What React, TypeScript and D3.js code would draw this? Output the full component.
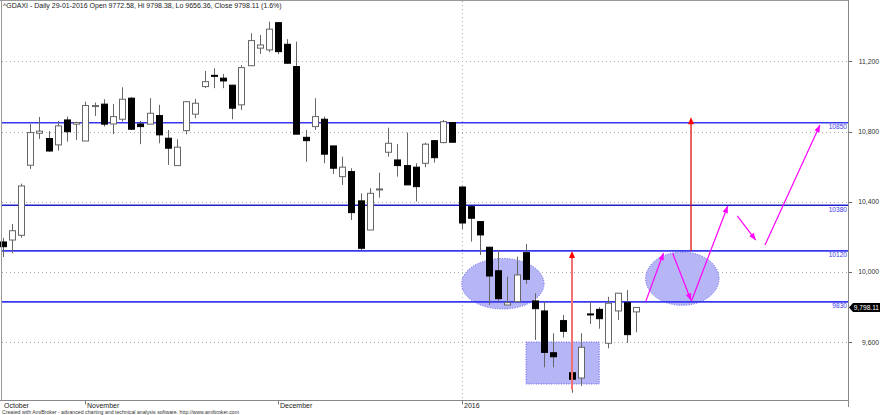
import React from 'react';
import * as d3 from 'd3';

// daily bars, 20 Oct 2015 .. 29 Jan 2016
const dates = [
  '2015-10-20', '2015-10-21', '2015-10-22', '2015-10-23', '2015-10-26', '2015-10-27', '2015-10-28', '2015-10-29', '2015-10-30',
  '2015-11-02', '2015-11-03', '2015-11-04', '2015-11-05', '2015-11-06', '2015-11-09', '2015-11-10', '2015-11-11', '2015-11-12',
  '2015-11-13', '2015-11-16', '2015-11-17', '2015-11-18', '2015-11-19', '2015-11-20', '2015-11-23', '2015-11-24', '2015-11-25',
  '2015-11-26', '2015-11-27', '2015-11-30',
  '2015-12-01', '2015-12-02', '2015-12-03', '2015-12-04', '2015-12-07', '2015-12-08', '2015-12-09', '2015-12-10', '2015-12-11',
  '2015-12-14', '2015-12-15', '2015-12-16', '2015-12-17', '2015-12-18', '2015-12-21', '2015-12-22', '2015-12-23', '2015-12-28',
  '2015-12-29', '2015-12-30',
  '2016-01-04', '2016-01-05', '2016-01-06', '2016-01-07', '2016-01-08', '2016-01-11', '2016-01-12', '2016-01-13', '2016-01-14',
  '2016-01-15', '2016-01-18', '2016-01-19', '2016-01-20', '2016-01-21', '2016-01-22', '2016-01-25', '2016-01-26', '2016-01-27',
  '2016-01-28', '2016-01-29',
];
const opens = [
  10171, 10182, 10209, 10608, 10790, 10760, 10724, 10866, 10842,
  10746, 10943, 10956, 10843, 10870, 10990, 10843, 10842, 10891,
  10762, 10606, 10805, 10899, 11056, 11120, 11104, 11064, 10952,
  11175, 11275, 11265,
  11420, 11297, 11170, 10767, 10828, 10870, 10718, 10543, 10572,
  10405, 10239, 10468, 10682, 10638, 10606, 10597, 10619, 10748,
  10737, 10851,
  10484, 10372, 10287, 10141, 10007, 9812, 9831, 10110, 9835,
  9778, 9540, 9723, 9426, 9396, 9761, 9787, 9594, 9778,
  9825, 9772.58,
];
const highs = [
  10194, 10273, 10503, 10843, 10883, 10802, 10860, 10885, 10856,
  10970, 10965, 10984, 10957, 11052, 10997, 10860, 10990, 10952,
  10809, 10756, 10974, 10986, 11145, 11160, 11128, 11066, 11179,
  11360, 11350, 11426,
  11424, 11326, 11312, 10809, 10990, 10885, 10718, 10657, 10591,
  10448, 10477, 10566, 10822, 10729, 10794, 10619, 10737, 10749,
  10866, 10855,
  10487, 10375, 10290, 10143, 10125, 9973, 10087, 10160, 9879,
  9831, 9651, 9755, 9428, 9651, 9831, 9799, 9859, 9880,
  9897, 9798.38,
];
const lows = [
  10085, 10107, 10195, 10587, 10758, 10684, 10691, 10742, 10752,
  10746, 10889, 10828, 10785, 10856, 10809, 10728, 10842, 10733,
  10610, 10606, 10784, 10876, 11048, 11047, 11047, 10870, 10923,
  11174, 11242, 11252,
  11240, 11187, 10784, 10628, 10809, 10619, 10558, 10496, 10296,
  10125, 10239, 10423, 10657, 10543, 10496, 10401, 10597, 10623,
  10733, 10738,
  10245, 10173, 10097, 9812, 9831, 9812, 9828, 9932, 9613,
  9457, 9457, 9626, 9312, 9350, 9704, 9677, 9565, 9727,
  9597, 9656.36,
];
const closes = [
  10144, 10235, 10490, 10794, 10802, 10689, 10832, 10799, 10851,
  10948, 10948, 10842, 10885, 10984, 10813, 10828, 10904, 10781,
  10705, 10711, 10970, 10961, 11084, 11117, 11088, 10933, 11164,
  11318, 11293, 11383,
  11255, 11189, 10785, 10748, 10885, 10671, 10591, 10597, 10338,
  10135, 10448, 10473, 10733, 10606, 10496, 10486, 10728, 10651,
  10856, 10739,
  10279, 10306, 10211, 9977, 9848, 9825, 9983, 9958, 9791,
  9542, 9517, 9662, 9389, 9571, 9760, 9734, 9822, 9879,
  9643, 9798.11,
];

const priceTicks = [9600, 10000, 10400, 10800, 11200];
const levels = [10850, 10380, 10120, 9830];
const monthNames = ['January', 'February', 'March', 'April', 'May', 'June', 'July', 'August', 'September', 'October', 'November', 'December'];

// annotations, in bar index / price units
const ellipses = [
  { cx: 54.49, cy: 9933, rx: 4.49, ry: 144 },
  { cx: 74.05, cy: 9962, rx: 4.0, ry: 152 },
];
const boxes = [{ i0: 57.02, i1: 65.0, p0: 9601, p1: 9362 }];
const redArrows = [
  { i: 62.03, from: 9330, to: 10120 },
  { i: 75.0, from: 10120, to: 10882 },
];
const pinkArrows = [
  [70.06, 9831, 72.0, 10108],
  [73.0, 10107, 75.0, 9838],
  [75.05, 9835, 79.0, 10376],
  [80.04, 10319, 82.05, 10182],
  [83.06, 10154, 89.05, 10837],
];

const W = 880;
const H = 415;
const plotRight = 848;
const plotBottom = 400.5;
const font = 'Arial, "Liberation Sans", sans-serif';

const x = d3.scaleLinear().domain([0, 69]).range([2.75, 2.75 + 69 * 9.177]);
const y = d3.scaleLinear().domain([9600, 11200]).range([342.2, 61.3]);

function head(x1: number, y1: number, x2: number, y2: number, len: number, half: number) {
  const a = Math.atan2(y2 - y1, x2 - x1);
  const bx = x2 - len * Math.cos(a);
  const by = y2 - len * Math.sin(a);
  const px = -Math.sin(a) * half;
  const py = Math.cos(a) * half;
  return `M${x2},${y2}L${bx + px},${by + py}L${bx - px},${by - py}Z`;
}

const App: React.FC = () => {
  const bars = dates.map((d, i) => ({ d, i, o: opens[i], h: highs[i], l: lows[i], c: closes[i] }));
  const months = bars.filter((b, i) => i === 0 || b.d.slice(5, 7) !== bars[i - 1].d.slice(5, 7));
  const last = bars[bars.length - 1];
  const chg = ((last.c - closes[bars.length - 2]) / closes[bars.length - 2]) * 100;
  const fmt = d3.format(',');
  const title = `^GDAXI - Daily ${last.d.slice(8, 10)}-${last.d.slice(5, 7)}-${last.d.slice(0, 4)} Open ${last.o.toFixed(2)}, Hi ${last.h.toFixed(2)}, Lo ${last.l.toFixed(2)}, Close ${last.c.toFixed(2)} (${chg.toFixed(1)}%)`;
  const yLast = y(last.c);

  return (
    <svg width={W} height={H} style={{ position: 'absolute', left: 0, top: 0, background: '#fff' }} fontFamily={font}>
      {/* grid */}
      {priceTicks.map(p => (
        <line key={p} x1={2} x2={plotRight} y1={Math.round(y(p)) + 0.5} y2={Math.round(y(p)) + 0.5} stroke="#aaa" strokeDasharray="1,3" />
      ))}
      {months.filter(m => m.d.slice(5, 7) === '01').map(m => (
        <line key={m.d} x1={Math.round(x(m.i)) + 0.5} x2={Math.round(x(m.i)) + 0.5} y1={1} y2={plotBottom} stroke="#aaa" strokeDasharray="1,3" />
      ))}

      {/* shaded zones */}
      {ellipses.map((e, k) => (
        <ellipse key={k} cx={x(e.cx)} cy={y(e.cy)} rx={x(e.rx) - x(0)} ry={y(10000 - e.ry) - y(10000)}
          fill="#b6b6f6" stroke="#5a5af0" strokeDasharray="1,1.5" />
      ))}
      {boxes.map((b, k) => (
        <rect key={k} x={x(b.i0)} y={y(b.p0)} width={x(b.i1) - x(b.i0)} height={y(b.p1) - y(b.p0)}
          fill="#b6b6f6" stroke="#5a5af0" strokeDasharray="1,1.5" />
      ))}

      {/* levels */}
      {levels.map(p => (
        <g key={p}>
          <line x1={2} x2={plotRight} y1={y(p)} y2={y(p)} stroke={p === 10380 ? '#2020c8' : '#3838ee'} strokeWidth={p === 10380 ? 1.3 : 1.7} />
          <text x={plotRight - 1} y={y(p) + 6.5} textAnchor="end" fontSize={6.6} fill="#3c3cf0">{p}</text>
        </g>
      ))}

      {/* candles */}
      {bars.map(b => {
        const cx = Math.round(x(b.i)) + 0.5;
        const up = b.c >= b.o;
        const top = y(Math.max(b.o, b.c));
        const bot = y(Math.min(b.o, b.c));
        return (
          <g key={b.d}>
            <line x1={cx} x2={cx} y1={y(b.h)} y2={y(b.l)} stroke="#666" />
            <rect x={cx - 3} y={top} width={6} height={Math.max(1, bot - top)}
              fill={up ? '#fff' : '#000'} stroke={up ? '#666' : '#000'} />
          </g>
        );
      })}

      {/* red arrows */}
      {redArrows.map((a, k) => {
        const ax = x(a.i);
        return (
          <g key={k}>
            <line x1={ax} x2={ax} y1={y(a.from)} y2={y(a.to) + 6} stroke={k === 0 ? '#f47070' : '#d80000'} strokeWidth={k === 0 ? 2 : 1.2} />
            <path d={head(ax, y(a.from), ax, y(a.to), 7, 3)} fill="#ff0000" />
          </g>
        );
      })}
      {pinkArrows.map((a, k) => {
        const x1 = x(a[0]), y1 = y(a[1]), x2 = x(a[2]), y2 = y(a[3]);
        return (
          <g key={k}>
            <line x1={x1} y1={y1} x2={x2} y2={y2} stroke="#ff00ff" strokeWidth={1.2} />
            <path d={head(x1, y1, x2, y2, 7, 2.8)} fill="#ff00ff" />
          </g>
        );
      })}

      {/* frame */}
      <line x1={0} x2={plotRight} y1={0.5} y2={0.5} stroke="#999" />
      <line x1={1.5} x2={1.5} y1={0} y2={plotBottom} stroke="#999" />
      <line x1={0} x2={plotRight} y1={plotBottom} y2={plotBottom} stroke="#888" />
      <line x1={plotRight + 0.5} x2={plotRight + 0.5} y1={0} y2={407} stroke="#888" />

      {/* right axis */}
      {priceTicks.map(p => (
        <g key={p}>
          <line x1={plotRight + 1} x2={plotRight + 4} y1={Math.round(y(p)) + 0.5} y2={Math.round(y(p)) + 0.5} stroke="#666" />
          <text x={W - 1} y={y(p) + 2.5} textAnchor="end" fontSize={6.8} fill="#333">{fmt(p)}</text>
        </g>
      ))}
      <path d={`M${plotRight + 1},${yLast}L${plotRight + 5},${yLast - 4.5}L${W},${yLast - 4.5}L${W},${yLast + 4.5}L${plotRight + 5},${yLast + 4.5}Z`} fill="#000" />
      <text x={W - 1} y={yLast + 2.5} textAnchor="end" fontSize={6.6} fill="#fff">{d3.format(',.2f')(last.c)}</text>

      {/* x axis */}
      {months.map((m, k) => {
        const mx = Math.round(x(m.i)) + 0.5;
        const mo = +m.d.slice(5, 7);
        const label = mo === 1 ? m.d.slice(0, 4) : monthNames[mo - 1];
        return (
          <g key={m.d}>
            {k > 0 && <line x1={mx} x2={mx} y1={plotBottom} y2={plotBottom + 4} stroke="#777" />}
            <text x={k > 0 ? mx + 1.5 : 4} y={407.5} fontSize={7} fill="#222">{label}</text>
          </g>
        );
      })}

      <text x={3} y={7.5} fontSize={7} fill="#222">{title}</text>
      <text x={2} y={413.5} fontSize={5.2} fill="#333">Created with AmiBroker - advanced charting and technical analysis software. http://www.amibroker.com</text>
    </svg>
  );
};

export default App;
